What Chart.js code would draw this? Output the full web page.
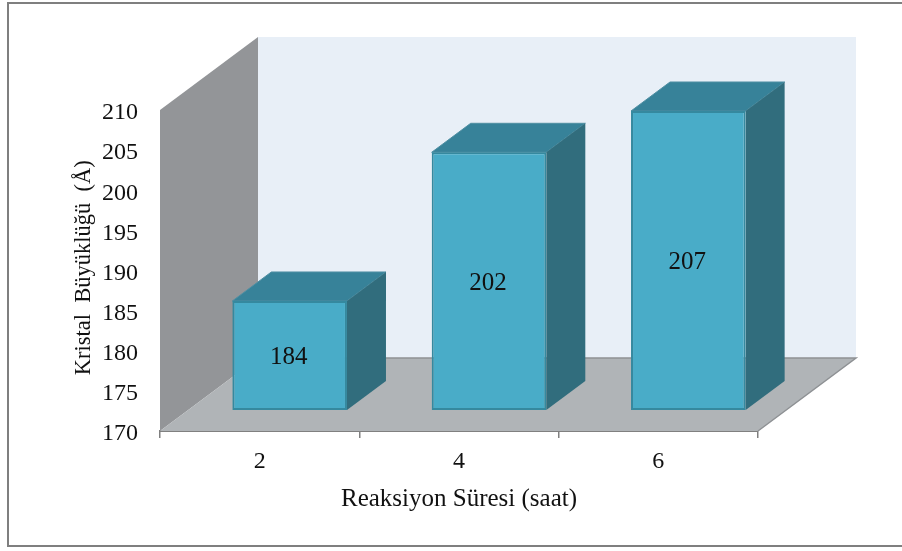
<!DOCTYPE html>
<html lang="tr">
<head>
<meta charset="utf-8">
<title>Kristal Büyüklüğü</title>
<script src="https://cdn.jsdelivr.net/npm/chart.js@4"></script>
<style>
  html, body { margin: 0; background: #fff; }
  canvas { display: block; }
</style>
</head>
<body>
<canvas id="chart" width="902" height="551"></canvas>
<script>
const hours = ["2", "4", "6"];
const crystalSize = [184, 202, 207];
const axisMin = 170;
const axisMax = 210;
const axisStep = 5;

const FONT = '"Liberation Serif", "Times New Roman", serif';
const TEXT = "#111";

/* derinlik: arka duvar ve çubuk kutuları için eğik izdüşüm */
const WALL_DX = 98;
const WALL_DY = -73;
const BAR_DX = 39;
const BAR_DY = -29;
const BAR_SHIFT = 30;

function poly(ctx, pts, fill, stroke) {
  ctx.beginPath();
  pts.forEach(([x, y], i) => (i ? ctx.lineTo(x, y) : ctx.moveTo(x, y)));
  ctx.closePath();
  ctx.fillStyle = fill;
  ctx.fill();
  if (stroke) {
    ctx.strokeStyle = stroke;
    ctx.lineWidth = 1;
    ctx.stroke();
  }
}

/* ---- çerçeve, duvarlar ve taban ---- */
const room = {
  id: "room",
  beforeDraw(chart) {
    const { ctx } = chart;
    ctx.save();
    ctx.strokeStyle = "#7f7f7f";
    ctx.lineWidth = 2;
    ctx.beginPath();
    ctx.moveTo(902, 3);
    ctx.lineTo(8, 3);
    ctx.lineTo(8, 546);
    ctx.lineTo(902, 546);
    ctx.stroke();
    ctx.restore();
  },
  beforeDatasetsDraw(chart) {
    const { ctx, chartArea: a } = chart;
    const bx = a.left + WALL_DX;
    const rx = a.right + WALL_DX;
    const ty = a.top + WALL_DY;
    const by = a.bottom + WALL_DY;
    ctx.save();
    poly(ctx, [[bx, ty], [rx, ty], [rx, by], [bx, by]], "#e8eff7");
    poly(ctx, [[a.left, a.top], [bx, ty], [bx, by], [a.left, a.bottom]], "#939598");
    poly(ctx, [[a.left, a.bottom], [a.right, a.bottom], [rx, by], [bx, by]], "#b0b4b7");
    ctx.strokeStyle = "#8e9194";
    ctx.lineWidth = 1.5;
    ctx.beginPath();
    ctx.moveTo(bx, by);
    ctx.lineTo(rx, by);
    ctx.lineTo(a.right, a.bottom);
    ctx.stroke();
    ctx.restore();
  },
};

/* ---- çubukların üst ve yan yüzleri, değer etiketleri ---- */
const boxes = {
  id: "boxes",
  beforeDatasetDraw(chart, args) {
    const { ctx } = chart;
    ctx.save();
    ctx.translate(BAR_SHIFT, 0);
    args.meta.data.forEach((bar) => {
      const left = bar.x - bar.width / 2;
      const right = bar.x + bar.width / 2;
      poly(ctx, [[left, bar.y], [left + BAR_DX, bar.y + BAR_DY], [right + BAR_DX, bar.y + BAR_DY], [right, bar.y]], "#378299", "#4f8fa3");
      poly(ctx, [[right, bar.y], [right + BAR_DX, bar.y + BAR_DY], [right + BAR_DX, bar.base + BAR_DY], [right, bar.base]], "#316d7d");
    });
  },
  afterDatasetDraw(chart, args) {
    const { ctx } = chart;
    ctx.font = `25px ${FONT}`;
    ctx.fillStyle = TEXT;
    ctx.textAlign = "center";
    ctx.textBaseline = "middle";
    args.meta.data.forEach((bar, i) => {
      ctx.fillText(String(crystalSize[i]), bar.x - 1, (bar.y + bar.base) / 2 + 2);
    });
    ctx.restore();
  },
};

new Chart(document.getElementById("chart"), {
  type: "bar",
  data: {
    labels: hours,
    datasets: [
      {
        data: crystalSize,
        yAxisID: "yBars",
        base: 170.8,
        clip: false,
        backgroundColor: "#49acc8",
        borderColor: "#35899f",
        borderWidth: 2,
        borderSkipped: false,
        categoryPercentage: 1,
        barPercentage: 0.575,
      },
    ],
  },
  options: {
    responsive: false,
    animation: false,
    layout: { padding: { top: 110, right: 144, left: 0, bottom: 0 } },
    plugins: { legend: { display: false }, tooltip: { enabled: false } },
    scales: {
      x: {
        afterFit: (scale) => { scale.height = 120; },
        border: { color: "#808080", width: 2 },
        grid: { drawOnChartArea: false, color: "#808080", tickColor: "#808080", tickLength: 7, lineWidth: 1.5 },
        ticks: { color: TEXT, font: { family: FONT, size: 24 }, padding: 9, maxRotation: 0 },
        title: {
          display: true,
          text: "Reaksiyon Süresi (saat)",
          color: TEXT,
          font: { family: FONT, size: 25 },
          padding: { top: 0, bottom: 37 },
        },
      },
      y: {
        min: axisMin,
        max: axisMax,
        afterFit: (scale) => { scale.width = 160; },
        border: { display: false },
        grid: { display: false, drawTicks: false },
        ticks: { stepSize: axisStep, color: TEXT, font: { family: FONT, size: 24 }, padding: 22, autoSkip: false, labelOffset: 3 },
        title: {
          display: true,
          text: " Kristal  Büyüklüğü  (Å)",
          color: TEXT,
          font: { family: FONT, size: 22.5 },
          padding: { top: 71, bottom: 0 },
        },
      },
      // kutular kendi derinlik düzleminde, eksenden biraz farklı ölçekte
      yBars: { display: false, min: 168.26, max: 207.12 },
    },
  },
  plugins: [room, boxes],
});
</script>
</body>
</html>
